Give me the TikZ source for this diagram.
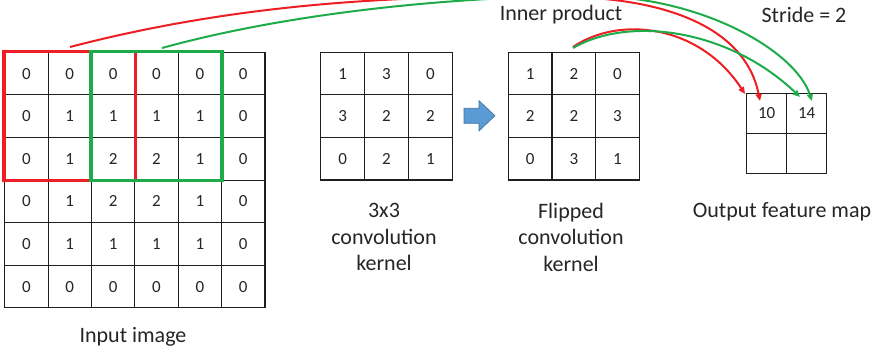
\documentclass[tikz,border=0pt]{standalone}
\usepackage{fontspec}
\setmainfont{Carlito}
\usetikzlibrary{arrows.meta}
\definecolor{cred}{RGB}{237,30,36}
\definecolor{cgreen}{RGB}{30,172,75}
\definecolor{ctext}{RGB}{38,38,38}
\definecolor{cgrid}{RGB}{30,30,30}
\definecolor{cblue}{RGB}{91,155,213}
\definecolor{cblueedge}{RGB}{65,113,156}
\begin{document}
\begin{tikzpicture}[x=1pt,y=-1pt,
  numfont/.style={font=\fontsize{17}{19}\selectfont, text=ctext},
  incell/.style={draw=cgrid, line width=1.1pt, minimum width=43.4pt, minimum height=42.6pt, inner sep=0pt, numfont},
  kcell/.style={draw=cgrid, line width=1.1pt, minimum width=43.8pt, minimum height=42.6pt, inner sep=0pt, numfont},
  ocell/.style={draw=cgrid, line width=1.1pt, minimum width=40pt, minimum height=40.3pt, inner sep=0pt, numfont},
  lbl/.style={font=\fontsize{22}{26.5}\selectfont, text=ctext, inner sep=0pt, align=center},
  redbox/.style={draw=cred, line width=3.5pt},
  greenbox/.style={draw=cgreen, line width=3.5pt},
  redarrow/.style={draw=cred, line width=2pt, -{Triangle[length=7pt,width=6pt]}},
  greenarrow/.style={draw=cgreen, line width=2pt, -{Triangle[length=7pt,width=6pt]}},
]
\useasboundingbox (0,0) rectangle (882,355);
\clip (0,0) rectangle (882,355);
\fill[white] (0,0) rectangle (882,355);

% input image
\foreach \row [count=\r from 0] in {{0,0,0,0,0,0},{0,1,1,1,1,0},{0,1,2,2,1,0},{0,1,2,2,1,0},{0,1,1,1,1,0},{0,0,0,0,0,0}} {
  \foreach \v [count=\c from 0] in \row {
    \node[incell] (in-\r-\c) at ({4.7+43.38*(\c+0.5)},{52.3+42.6*(\r+0.5)}) {\v};
  }
}
% kernel
\foreach \row [count=\r from 0] in {{1,3,0},{3,2,2},{0,2,1}} {
  \foreach \v [count=\c from 0] in \row {
    \node[kcell] (k-\r-\c) at ({320.7+43.87*(\c+0.5)},{52.3+42.57*(\r+0.5)}) {\v};
  }
}
% flipped kernel
\foreach \row [count=\r from 0] in {{1,2,0},{2,2,3},{0,3,1}} {
  \foreach \v [count=\c from 0] in \row {
    \node[kcell] (f-\r-\c) at ({508.3+43.67*(\c+0.5)},{52.3+42.57*(\r+0.5)}) {\v};
  }
}
% output
\node[ocell] (o-0-0) at (766.7,113.45) {10};
\node[ocell] (o-0-1) at (806.7,113.45) {14};
\node[ocell] (o-1-0) at (766.7,153.75) {};
\node[ocell] (o-1-1) at (806.7,153.75) {};

% windows
\draw[redbox] (in-0-0.north west) rectangle (in-2-2.south east);
\draw[greenbox] (in-0-2.north west) rectangle (in-2-4.south east);

% blue arrow
\draw[cblueedge, fill=cblue, line width=0.6pt, line join=miter]
  (464,108.3) -- (479,108.3) -- (479,100.7) -- (495,115.7) -- (479,131) -- (479,123.3) -- (464,123.3) -- cycle;

% labels
\node[lbl] (lin) at (133,337) {Input image};
\node[lbl] (lk) at (384,237) {3x3\\convolution\\kernel};
\node[lbl] (lf) at (571,237) {Flipped\\convolution\\kernel};
\node[lbl] (lo) at (782,212) {Output feature map};
\node[lbl] (lip) at (561,15) {Inner product};
\node[lbl] (ls) at (804,15) {Stride = 2};

% connector ends
\coordinate (rs) at (70,47);
\coordinate (gs) at (162,48);
\coordinate (ks) at (573,47);
\coordinate (ksg) at (573,48);
\coordinate (re1) at (760,101);
\coordinate (re2) at (745,94);
\coordinate (ge1) at (812,101);
\coordinate (ge2) at (800,97);

% curves
\draw[redarrow] (rs) .. controls (250,0) and (420,-5) .. (560,-3) .. controls (660,-3) and (745,25) .. (re1);
\draw[greenarrow] (gs) .. controls (300,10) and (470,-4) .. (590,-4) .. controls (700,-4) and (795,50) .. (ge1);
\draw[redarrow] (ks) .. controls (620,15) and (700,25) .. (re2);
\draw[greenarrow] (ksg) .. controls (630,15) and (730,30) .. (ge2);
\end{tikzpicture}
\end{document}
